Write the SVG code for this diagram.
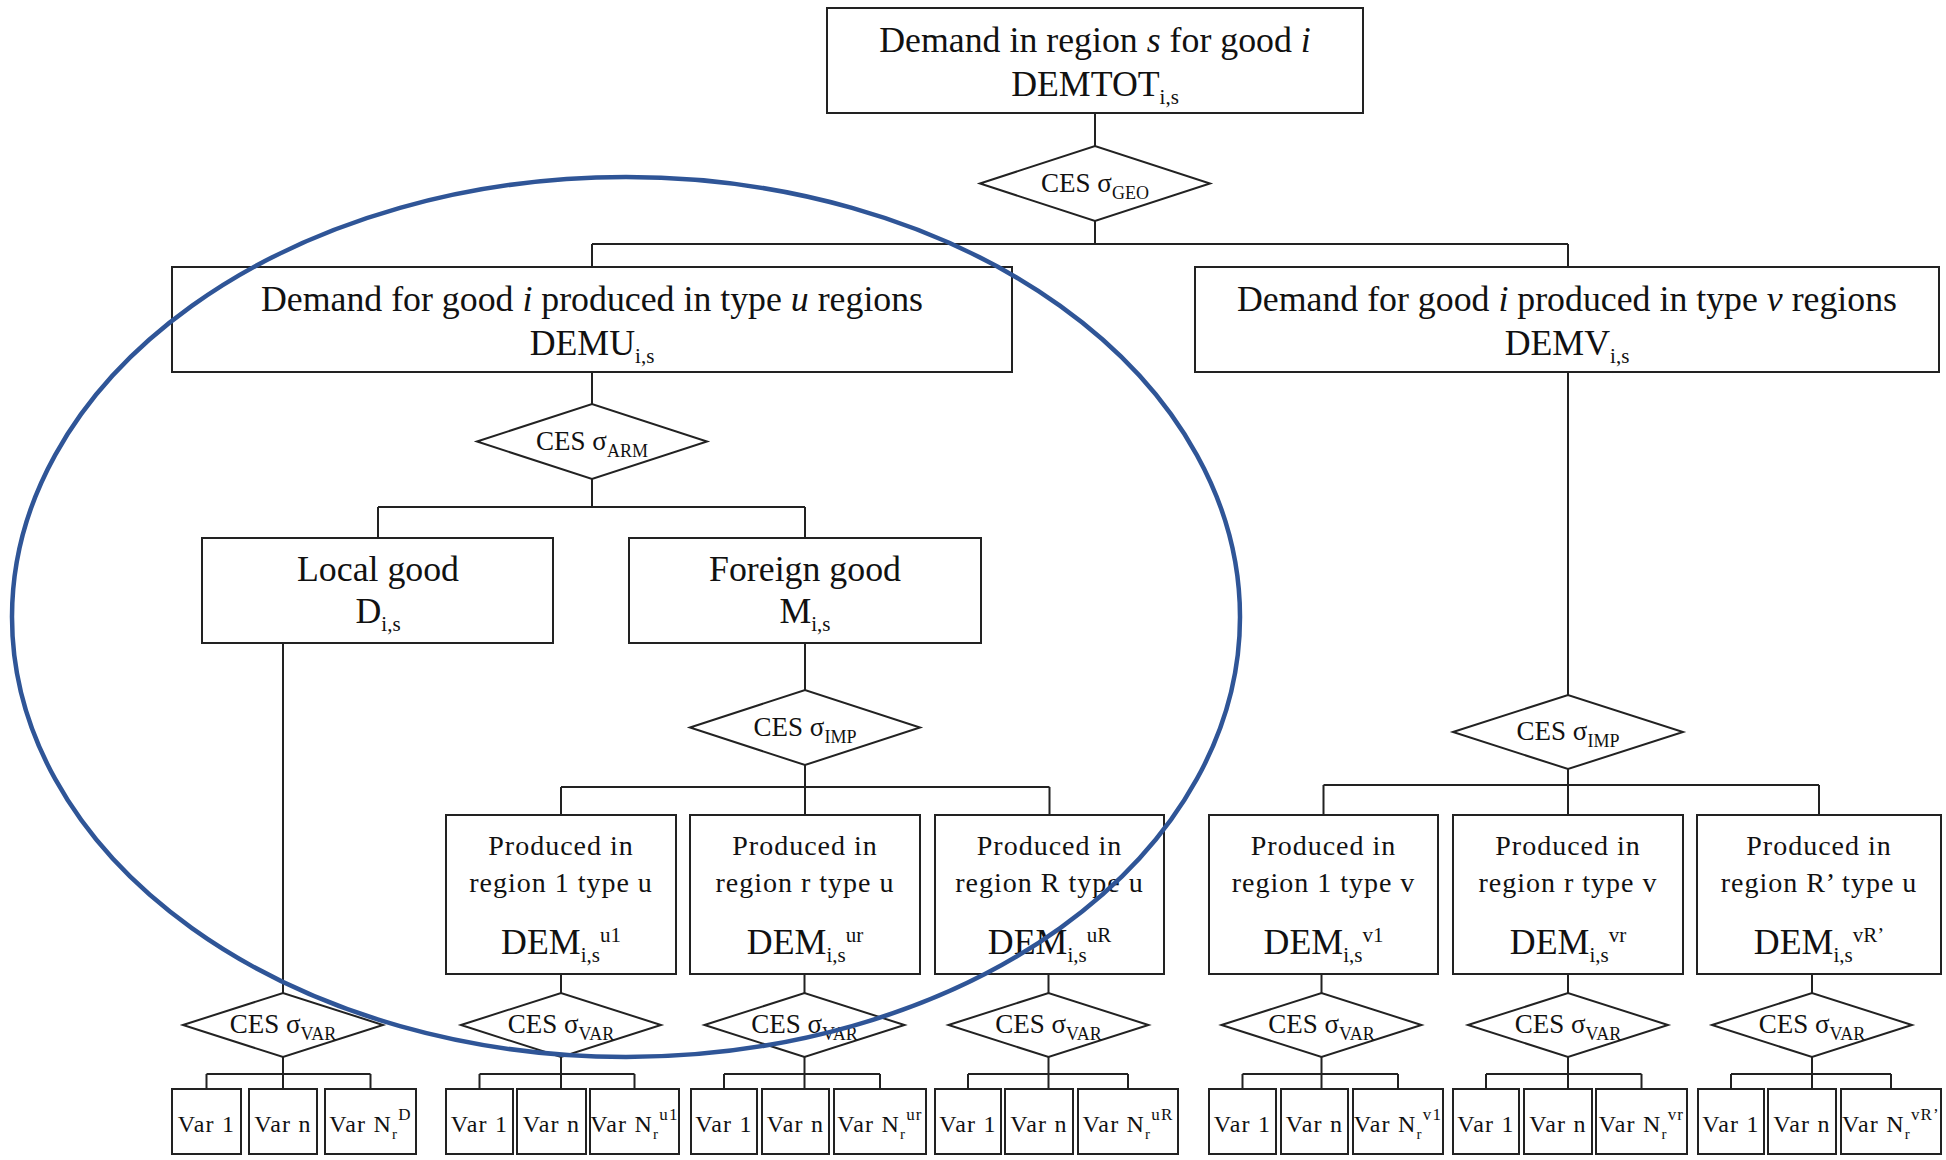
<svg xmlns="http://www.w3.org/2000/svg" width="1946" height="1160" viewBox="0 0 1946 1160">
  <defs>
    <style>
      .box { fill: #fff; stroke: #222; stroke-width: 2; }
      .dia { fill: #fff; stroke: #222; stroke-width: 2; }
      .wire { fill: none; stroke: #222; stroke-width: 2; }
      .t { font-family: "Liberation Serif", "Times New Roman", serif; fill: #111; text-anchor: middle; }
      .big { font-size: 35.8px; }
      .mid { font-size: 28px; letter-spacing: 1px; }
      .ces { font-size: 27px; }
      .var { font-size: 24px; letter-spacing: 1.2px; }
      .it { font-style: italic; }
      .ring { fill: none; stroke: #2F5597; stroke-width: 4.5; }
    </style>
  </defs>
  <rect width="1946" height="1160" fill="#fff"/>

  <!-- tree connectors -->
  <g id="connectors" class="wire">
    <path d="M1095 113V146M1095 221V244M592 244H1568M592 244V267M1568 244V267"/>
    <path d="M592 372V404M592 479V507M378 507H805M378 507V538M805 507V538"/>
    <path d="M283 643V993M805 643V690M805 765V787M561 787H1049.5M561 787V815M805 787V815M1049.5 787V815"/>
    <path d="M1568 372V695M1568 769V785M1323.5 785H1819M1323.5 785V815M1568 785V815M1819 785V815"/>
    <path d="M561 974V993M804.5 974V993M1048.5 974V993M1321.5 974V993M1568 974V993M1812 974V993"/>
    <!-- variety fan-out under each sigma_VAR nest -->
    <path d="M283 1057V1089M206.5 1074H370.5M206.5 1074V1089M370.5 1074V1089"/>
    <path d="M561 1057V1089M479.5 1074H634.5M479.5 1074V1089M634.5 1074V1089"/>
    <path d="M804.5 1057V1089M724 1074H880M724 1074V1089M880 1074V1089"/>
    <path d="M1048.5 1057V1089M968 1074H1128M968 1074V1089M1128 1074V1089"/>
    <path d="M1321.5 1057V1089M1242.5 1074H1398M1242.5 1074V1089M1398 1074V1089"/>
    <path d="M1568 1057V1089M1486 1074H1641.5M1486 1074V1089M1641.5 1074V1089"/>
    <path d="M1812 1057V1089M1731 1074H1891M1731 1074V1089M1891 1074V1089"/>
  </g>

  <!-- level 0 -->
  <g id="demtot">
    <rect class="box" x="827" y="8" width="536" height="105"/>
    <text class="t big" x="1095" y="52">Demand in region <tspan class="it">s</tspan> for good <tspan class="it">i</tspan></text>
    <text class="t big" x="1095" y="96">DEMTOT<tspan dy="8" font-size="21">i,s</tspan></text>
  </g>
  <g id="ces-geo">
    <polygon class="dia" points="980,183.5 1095,146 1210,183.5 1095,221"/>
    <text class="t ces" x="1095" y="192">CES σ<tspan dy="7" font-size="18">GEO</tspan></text>
  </g>

  <!-- level 1 -->
  <g id="demu">
    <rect class="box" x="172" y="267" width="840" height="105"/>
    <text class="t big" x="592" y="311">Demand for good <tspan class="it">i</tspan> produced in type <tspan class="it">u</tspan> regions</text>
    <text class="t big" x="592" y="355">DEMU<tspan dy="8" font-size="21">i,s</tspan></text>
  </g>
  <g id="demv">
    <rect class="box" x="1195" y="267" width="744" height="105"/>
    <text class="t big" x="1567" y="311">Demand for good <tspan class="it">i</tspan> produced in type <tspan class="it">v</tspan> regions</text>
    <text class="t big" x="1567" y="355">DEMV<tspan dy="8" font-size="21">i,s</tspan></text>
  </g>

  <g id="ces-arm">
    <polygon class="dia" points="477,441.5 592,404 707,441.5 592,479"/>
    <text class="t ces" x="592" y="450">CES σ<tspan dy="7" font-size="18">ARM</tspan></text>
  </g>

  <!-- level 2 -->
  <g id="local-good">
    <rect class="box" x="202" y="538" width="351" height="105"/>
    <text class="t big" x="378" y="581">Local good</text>
    <text class="t big" x="378" y="623">D<tspan dy="8" font-size="21">i,s</tspan></text>
  </g>
  <g id="foreign-good">
    <rect class="box" x="629" y="538" width="352" height="105"/>
    <text class="t big" x="805" y="581">Foreign good</text>
    <text class="t big" x="805" y="623">M<tspan dy="8" font-size="21">i,s</tspan></text>
  </g>

  <g id="ces-imp-u">
    <polygon class="dia" points="690,727.5 805,690 920,727.5 805,765"/>
    <text class="t ces" x="805" y="736">CES σ<tspan dy="7" font-size="18">IMP</tspan></text>
  </g>
  <g id="ces-imp-v">
    <polygon class="dia" points="1453,732 1568,695 1683,732 1568,769"/>
    <text class="t ces" x="1568" y="740">CES σ<tspan dy="7" font-size="18">IMP</tspan></text>
  </g>

  <!-- level 3: origin regions -->
  <g id="prod-u1">
    <rect class="box" x="446" y="815" width="230" height="159"/>
    <text class="t mid" x="561" y="855">Produced in</text>
    <text class="t mid" x="561" y="892">region 1 type u</text>
    <text class="t big" x="561" y="954">DEM<tspan dy="8" font-size="21">i,s</tspan><tspan dy="-20" font-size="21">u1</tspan></text>
  </g>
  <g id="prod-ur">
    <rect class="box" x="690" y="815" width="230" height="159"/>
    <text class="t mid" x="805" y="855">Produced in</text>
    <text class="t mid" x="805" y="892">region r type u</text>
    <text class="t big" x="805" y="954">DEM<tspan dy="8" font-size="21">i,s</tspan><tspan dy="-20" font-size="21">ur</tspan></text>
  </g>
  <g id="prod-uR">
    <rect class="box" x="935" y="815" width="229" height="159"/>
    <text class="t mid" x="1049.5" y="855">Produced in</text>
    <text class="t mid" x="1049.5" y="892">region R type u</text>
    <text class="t big" x="1049.5" y="954">DEM<tspan dy="8" font-size="21">i,s</tspan><tspan dy="-20" font-size="21">uR</tspan></text>
  </g>
  <g id="prod-v1">
    <rect class="box" x="1209" y="815" width="229" height="159"/>
    <text class="t mid" x="1323.5" y="855">Produced in</text>
    <text class="t mid" x="1323.5" y="892">region 1 type v</text>
    <text class="t big" x="1323.5" y="954">DEM<tspan dy="8" font-size="21">i,s</tspan><tspan dy="-20" font-size="21">v1</tspan></text>
  </g>
  <g id="prod-vr">
    <rect class="box" x="1453" y="815" width="230" height="159"/>
    <text class="t mid" x="1568" y="855">Produced in</text>
    <text class="t mid" x="1568" y="892">region r type v</text>
    <text class="t big" x="1568" y="954">DEM<tspan dy="8" font-size="21">i,s</tspan><tspan dy="-20" font-size="21">vr</tspan></text>
  </g>
  <g id="prod-vR">
    <rect class="box" x="1697" y="815" width="244" height="159"/>
    <text class="t mid" x="1819" y="855">Produced in</text>
    <text class="t mid" x="1819" y="892">region R’ type u</text>
    <text class="t big" x="1819" y="954">DEM<tspan dy="8" font-size="21">i,s</tspan><tspan dy="-20" font-size="21">vR’</tspan></text>
  </g>

  <!-- sigma_VAR nests -->
  <g id="var-nest-D">
    <polygon class="dia" points="183,1025 283,993 383,1025 283,1057"/>
    <text class="t ces" x="283" y="1033">CES σ<tspan dy="7" font-size="18">VAR</tspan></text>
  </g>
  <g id="var-nest-u1">
    <polygon class="dia" points="461,1025 561,993 661,1025 561,1057"/>
    <text class="t ces" x="561" y="1033">CES σ<tspan dy="7" font-size="18">VAR</tspan></text>
  </g>
  <g id="var-nest-ur">
    <polygon class="dia" points="704.5,1025 804.5,993 904.5,1025 804.5,1057"/>
    <text class="t ces" x="804.5" y="1033">CES σ<tspan dy="7" font-size="18">VAR</tspan></text>
  </g>
  <g id="var-nest-uR">
    <polygon class="dia" points="948.5,1025 1048.5,993 1148.5,1025 1048.5,1057"/>
    <text class="t ces" x="1048.5" y="1033">CES σ<tspan dy="7" font-size="18">VAR</tspan></text>
  </g>
  <g id="var-nest-v1">
    <polygon class="dia" points="1221.5,1025 1321.5,993 1421.5,1025 1321.5,1057"/>
    <text class="t ces" x="1321.5" y="1033">CES σ<tspan dy="7" font-size="18">VAR</tspan></text>
  </g>
  <g id="var-nest-vr">
    <polygon class="dia" points="1468,1025 1568,993 1668,1025 1568,1057"/>
    <text class="t ces" x="1568" y="1033">CES σ<tspan dy="7" font-size="18">VAR</tspan></text>
  </g>
  <g id="var-nest-vR">
    <polygon class="dia" points="1712,1025 1812,993 1912,1025 1812,1057"/>
    <text class="t ces" x="1812" y="1033">CES σ<tspan dy="7" font-size="18">VAR</tspan></text>
  </g>

  <!-- varieties -->
  <g id="vars-D">
    <rect class="box" x="172" y="1089" width="69" height="65"/>
    <rect class="box" x="249" y="1089" width="68" height="65"/>
    <rect class="box" x="325" y="1089" width="91" height="65"/>
    <text class="t var" x="206.5" y="1132">Var 1</text>
    <text class="t var" x="283" y="1132">Var n</text>
    <text class="t var" x="370.5" y="1132">Var N<tspan dy="7" font-size="15">r</tspan><tspan dy="-19" font-size="17">D</tspan></text>
  </g>
  <g id="vars-u1">
    <rect class="box" x="446" y="1089" width="67" height="65"/>
    <rect class="box" x="517" y="1089" width="69" height="65"/>
    <rect class="box" x="590" y="1089" width="89" height="65"/>
    <text class="t var" x="479.5" y="1132">Var 1</text>
    <text class="t var" x="551.5" y="1132">Var n</text>
    <text class="t var" x="634.5" y="1132">Var N<tspan dy="7" font-size="15">r</tspan><tspan dy="-19" font-size="17">u1</tspan></text>
  </g>
  <g id="vars-ur">
    <rect class="box" x="691" y="1089" width="66" height="65"/>
    <rect class="box" x="762" y="1089" width="67" height="65"/>
    <rect class="box" x="834" y="1089" width="92" height="65"/>
    <text class="t var" x="724" y="1132">Var 1</text>
    <text class="t var" x="795.5" y="1132">Var n</text>
    <text class="t var" x="880" y="1132">Var N<tspan dy="7" font-size="15">r</tspan><tspan dy="-19" font-size="17">ur</tspan></text>
  </g>
  <g id="vars-uR">
    <rect class="box" x="935" y="1089" width="66" height="65"/>
    <rect class="box" x="1005" y="1089" width="68" height="65"/>
    <rect class="box" x="1078" y="1089" width="100" height="65"/>
    <text class="t var" x="968" y="1132">Var 1</text>
    <text class="t var" x="1039" y="1132">Var n</text>
    <text class="t var" x="1128" y="1132">Var N<tspan dy="7" font-size="15">r</tspan><tspan dy="-19" font-size="17">uR</tspan></text>
  </g>
  <g id="vars-v1">
    <rect class="box" x="1209" y="1089" width="67" height="65"/>
    <rect class="box" x="1281" y="1089" width="67" height="65"/>
    <rect class="box" x="1353" y="1089" width="90" height="65"/>
    <text class="t var" x="1242.5" y="1132">Var 1</text>
    <text class="t var" x="1314.5" y="1132">Var n</text>
    <text class="t var" x="1398" y="1132">Var N<tspan dy="7" font-size="15">r</tspan><tspan dy="-19" font-size="17">v1</tspan></text>
  </g>
  <g id="vars-vr">
    <rect class="box" x="1453" y="1089" width="66" height="65"/>
    <rect class="box" x="1524" y="1089" width="68" height="65"/>
    <rect class="box" x="1596" y="1089" width="91" height="65"/>
    <text class="t var" x="1486" y="1132">Var 1</text>
    <text class="t var" x="1558" y="1132">Var n</text>
    <text class="t var" x="1641.5" y="1132">Var N<tspan dy="7" font-size="15">r</tspan><tspan dy="-19" font-size="17">vr</tspan></text>
  </g>
  <g id="vars-vR">
    <rect class="box" x="1698" y="1089" width="66" height="65"/>
    <rect class="box" x="1768" y="1089" width="68" height="65"/>
    <rect class="box" x="1841" y="1089" width="100" height="65"/>
    <text class="t var" x="1731" y="1132">Var 1</text>
    <text class="t var" x="1802" y="1132">Var n</text>
    <text class="t var" x="1891" y="1132">Var N<tspan dy="7" font-size="15">r</tspan><tspan dy="-19" font-size="17">vR’</tspan></text>
  </g>

  <!-- highlight ring around the type-u branch -->
  <g id="u-branch-ring">
    <ellipse class="ring" cx="626" cy="617" rx="614" ry="440"/>
  </g>
</svg>
